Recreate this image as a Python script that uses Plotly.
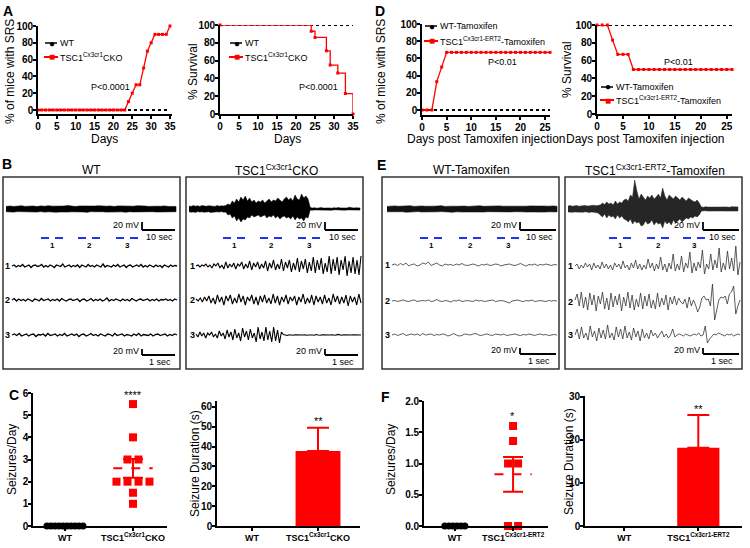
import numpy as np
import plotly.graph_objects as go

W, H = 750, 548
FONT = "Liberation Sans, Arial, Helvetica, sans-serif"
RED = "#ff0000"
BLUE = "#2233ee"

# ---------------- Panel A data ----------------
A_days = [0, 1, 2, 3, 4, 5, 6, 7, 8, 9, 10, 11, 12, 13, 14, 15, 16, 17, 18, 19, 20,
          21, 22, 23, 24, 25, 26, 27, 28, 29, 30, 31, 32, 33, 34, 35]
A_srs_wt = [0, 0, 0, 0, 0, 0, 0, 0, 0, 0, 0, 0, 0, 0, 0, 0, 0, 0, 0, 0, 0,
            0, 0, 0, 0, 0, 0, 0, 0, 0, 0, 0, 0, 0, 0, 0]
A_srs_tsc = [0, 0, 0, 0, 0, 0, 0, 0, 0, 0, 0, 0, 0, 0, 0, 0, 0, 0, 0, 0, 0,
             0, 0, 0, 10, 20, 30, 30, 50, 70, 80, 90, 90, 90, 90, 100]
A_surv_wt = [100, 100, 100, 100, 100, 100, 100, 100, 100, 100, 100, 100, 100, 100, 100, 100, 100, 100,
             100, 100, 100, 100, 100, 100, 100, 100, 100, 100, 100, 100, 100, 100, 100, 100, 100, 100]
A_surv_days_tsc = [0, 24, 25, 28, 29, 31, 33, 35]
A_surv_tsc = [100, 93, 86, 71, 55, 46, 23, 0]
A_xticks = [0, 5, 10, 15, 20, 25, 30, 35]
pct_ticks = [0, 20, 40, 60, 80, 100]

# ---------------- Panel D data ----------------
D_days = [0, 1, 2, 3, 4, 5, 6, 7, 8, 9, 10, 11, 12, 13, 14, 15, 16, 17, 18, 19, 20, 21, 22, 23, 24, 25, 26]
D_srs_wt = [0, 0, 0, 0, 0, 0, 0, 0, 0, 0, 0, 0, 0, 0, 0, 0, 0, 0, 0, 0, 0, 0, 0, 0, 0, 0, 0]
D_srs_tsc = [0, 0, 0, 33, 50, 67, 67, 67, 67, 67, 67, 67, 67, 67, 67, 67, 67, 67, 67, 67, 67, 67, 67, 67, 67, 67, 67]
D_surv_wt = [100, 100, 100, 100, 100, 100, 100, 100, 100, 100, 100, 100, 100, 100,
             100, 100, 100, 100, 100, 100, 100, 100, 100, 100, 100, 100, 100]
D_surv_tsc = [100, 100, 100, 83, 67, 67, 67, 50, 50, 50, 50, 50, 50, 50, 50, 50, 50, 50, 50, 50, 50, 50, 50, 50, 50, 50, 50]
D_xticks = [0, 5, 10, 15, 20, 25]

# ---------------- Panel C / F data ----------------
C_seiz_wt = [0, 0, 0, 0, 0, 0, 0, 0, 0, 0]
C_seiz_tsc = [5.5, 4.0, 3.0, 3.0, 2.0, 2.0, 2.0, 2.0, 1.5, 1.0]
C_dur_mean = [0, 37.8]
C_dur_err = [0, 11.7]
F_seiz_wt = [0, 0, 0, 0, 0, 0]
F_seiz_tsc = [1.6, 1.36, 1.0, 1.0, 0.0, 0.0]
F_dur_mean = [0, 18.2]
F_dur_err = [0, 7.6]

# ---------------- EEG traces (amplitudes, arbitrary units) ----------------
B_WT_over_up = [2.5, 3, 2.5, 2.8, 3.2, 2.6, 2.9, 3, 2.4, 3.1, 2.7, 3.3, 2.8, 2.6, 3, 2.9, 3.4, 2.7, 2.5, 3, 2.8, 3.1, 2.6,
                2.9, 3.2, 2.7, 2.8, 3, 2.5, 3.1, 2.9, 2.6, 3, 2.8, 3.2, 2.7, 2.9, 2.6, 3, 2.8, 2.7, 3.1, 2.6, 2.9, 2.5]
B_WT_over_lo = [2.7, 2.9, 3.1, 2.6, 2.8, 3.2, 2.7, 2.9, 3, 2.6, 3.1, 2.8, 2.7, 3.2, 2.9, 2.6, 3, 2.8, 3.1, 2.7, 2.9, 3.3, 2.6,
                2.8, 3, 2.7, 3.1, 2.9, 2.6, 3, 2.8, 3.2, 2.7, 2.9, 3, 2.6, 3.1, 2.8, 2.7, 3, 2.9, 2.6, 3.1, 2.8, 2.7]
B_CKO_over_up = [3, 2.5, 3.5, 2.8, 3.2, 2.6, 3.4, 3, 2.7, 3.3, 2.9, 3.1, 2.6, 3.5, 2.8, 3.2, 3, 3.6,
                 5, 4, 8, 6, 10, 7, 12, 9, 13, 8, 11, 7, 9, 6, 8, 7, 9, 6, 8, 10, 7, 9, 8, 11, 9, 7, 10, 12, 9, 11,
                 8, 14, 10, 9, 15, 11, 13, 10,
                 1.5, 1, 1.3, 0.8, 1.1, 1.4, 0.9, 1, 1.6, 1.1, 0.8, 1.3, 1, 1.5, 1.1, 0.9, 1.2, 1, 1.8, 1, 0.9, 1.2,
                 1, 1.1]
B_CKO_over_lo = [2.7, 3.2, 2.9, 3.4, 2.6, 3.1, 2.8, 3.3, 3, 2.7, 3.5, 2.9, 3.2, 2.8, 3.1, 2.6, 3.3, 3,
                 6, 5, 9, 7, 12, 9, 13, 10, 11, 8, 9, 6, 8, 7, 6, 8, 7, 6, 9, 7, 8, 6, 9, 7, 10, 8, 7, 9, 8, 10,
                 7, 11, 8, 10, 9, 12, 8, 9,
                 1, 1.3, 0.9, 1.1, 1.2, 0.8, 1, 1.4, 0.9, 1.1, 1.2, 0.8, 1, 1.3, 0.9, 1, 1.2, 0.9, 1.1, 1, 1.3, 0.9,
                 1, 1.1]
E_WT_over_up = [2.6, 2.9, 3.1, 2.7, 3, 2.8, 3.2, 2.6, 2.9, 3, 2.7, 3.1, 2.8, 2.9, 3.3, 2.6, 3, 2.8, 2.7, 3.1, 2.9, 2.6, 3,
                2.8, 3.2, 2.7, 2.9, 3, 2.6, 3.1, 2.8, 2.7, 3.2, 2.9, 2.6, 3, 2.8, 3.1, 2.7, 2.9, 3, 2.6, 2.8, 3.1, 2.7]
E_WT_over_lo = [2.8, 2.6, 3, 2.9, 2.7, 3.2, 2.8, 3, 2.6, 2.9, 3.1, 2.7, 3, 2.8, 2.6, 3.1, 2.9, 3.2, 2.8, 2.7, 3, 2.9, 2.6,
                3.1, 2.8, 3, 2.7, 2.9, 3.2, 2.6, 3, 2.8, 2.9, 2.7, 3.1, 2.8, 3, 2.6, 2.9, 3.1, 2.7, 3, 2.8, 2.6, 2.9]
E_ERT_over_up = [3, 3.4, 2.7, 3.1, 3.5, 2.8, 3.2, 3, 3.6, 2.9, 3.3, 3, 3.8, 3.2, 4,
                 4, 6, 4.5, 7, 5, 6, 4, 8, 5, 7, 6, 9,
                 10, 8, 14, 12, 29, 18, 10, 15, 12, 9, 13, 11, 14, 10, 12, 15, 11, 21, 13, 9, 14, 12, 10, 13, 11, 9,
                 12, 10, 8, 11, 9, 8, 7, 9, 6,
                 2, 1.7, 2.3, 1.9, 2.1, 1.8, 2.4, 2, 1.9, 2.2, 1.8, 2.1, 2, 1.7, 2.3, 2, 1.9, 2.1]
E_ERT_over_lo = [3, 2.8, 3.3, 3, 2.9, 3.4, 3, 3.2, 2.8, 3.1, 3.5, 3, 3.3, 3.6, 4,
                 6, 8, 5, 9, 6, 8, 7, 10, 6, 9, 7, 10,
                 11, 13, 10, 15, 12, 14, 13, 17, 16, 12, 15, 14, 11, 16, 13, 15, 14, 19, 12, 15, 13, 16, 11, 14, 12,
                 10, 13, 11, 9, 10, 8, 9, 7, 8, 6,
                 2, 2.2, 1.8, 2.1, 1.9, 2.3, 2, 1.8, 2.2, 2, 1.9, 2.1, 1.8, 2.2, 2, 1.9, 2.1, 2]

B_WT_1 = [0, 1, -1, 0.5, -0.5, 1.5, -1, 0, 1, -1.5, 0.5, 1, -0.5, 0, 1.5, -1, 0.5, -1, 1, 0, -1.5, 1, 0.5, -0.5, 2, -1, 0,
          1, -1, 0.5, -0.5, 1, -1.5, 1, 0, -1, 1.5, -0.5, 0.5, -1, 1, 0, -1, 2, -1, 0.5, 0, -1, 1, -0.5, 1.5, -1, 0, 1,
          -1.5, 0.5, 1, -1, 0, 1, -0.5, 1.5, -1, 0.5, -1, 1, 0, -1, 1, -0.5, 0.5, -1.5, 1, 0, -1, 1, -0.5, 0.5, 0]
B_WT_2 = [0, 1.5, -1, 1, -0.5, 0.5, -1, 1, 0, -1.5, 1, 0.5, -1, 1.5, -0.5, 0, 1, -1, 0.5, -0.5, 1, -1, 1.5, 0, -1, 0.5,
          1, -0.5, 0, 1, -1.5, 0.5, 1, -1, 0, 1.5, -1, 0.5, -0.5, 1, -1, 0, 2, -1, 0.5, -0.5, 1, 0, -1, 1, -0.5, 0.5,
          -1, 1.5, 0, -1, 0.5, 1, -0.5, 0, 1, -1, 0.5, -0.5, 1, -1, 0.5, 0, 1, -0.5, 0.5, -1, 1, 0]
B_WT_3 = [0, 1, -0.5, 1.5, -1, 0, 1, -1, 0.5, 1, -1.5, 0.5, 0, 1, -1, 1.5, -0.5, 0, 1, -1, 0.5, -0.5, 1.5, -1, 0, 1,
          -0.5, 1, -1.5, 0.5, 1, -1, 0, 1.5, -0.5, 0.5, -1, 1, 0, -1, 1, 0.5, -1, 1.5, -0.5, 0, 1, -1, 0.5, 0, -1, 1,
          -0.5, 1.5, -1, 0.5, 0, -0.5, 1, -1, 0.5, 1, -0.5, 0, 1, -1, 0.5, -0.5, 1, 0]
B_CKO_1 = [0, 1, -1, 1, 0, 2, -1, 1, -2, 2, 0, 3, -2, 1, -3, 4, -2, 2, -1, 3, -3, 2, 0, 4, -3, 2, -2, 5, -4, 3, -1, 4,
           -3, 2, -2, 5, -5, 3, -2, 6, -4, 2, -3, 7, -5, 4, -2, 6, -6, 3, -4, 8, -6, 5, -3, 7, -7, 4, -5, 9, -7, 6, -4,
           8, -8, 3, -6, 10, -8, 7, -5, 9, -9, 6, -4, 10, -10, 5, -7, 9, -8, 6, -9, 10]
B_CKO_2 = [1, -1, 2, -2, 3, -1, 4, -3, 2, -4, 5, -2, 3, -5, 4, -1, 5, -4, 2, -3, 6, -2, 4, -5, 3, -1, 5, -4, 3, -5, 4,
           -2, 5, -3, 2, -4, 6, -3, 4, -5, 3, -2, 5, -4, 3, -1, 4, -5, 3, -2, 6, -4, 2, -3, 5, -5, 4, -2, 3, -4, 5, -3,
           2, -5, 6, -2, 4, -4, 3, -3, 5, -6, 4, -2, 3, -5, 6, -3]
B_CKO_3 = [1, -2, 3, -1, 2, -3, 2, 0, 3, -2, 1, -3, 4, -1, 2, -4, 5, -2, 3, -5, 6, -3, 2, -6, 7, -2, 4, -5, 6, -3, 2,
           -7, 8, -4, 3, -6, 8, -5, 4, -7, 8, -6, 5, -8, 3, 0.5, 0, -0.5, 0.3, 0, -0.3, 0.2, 0, 0.4, -0.2, 0, 0.3,
           -0.3, 0, 0.2, 0, -0.2, 0.5, 0, -0.3, 0.2, 0, 0.3, -0.4, 0, 0.2, 0, -0.2, 0.6, 0, -0.3, 0.2, 0, -0.2, 0.3,
           0, 0.2, 0, -0.3, 0.2, 0]
E_WT_1 = [0, 1, -0.5, 1.5, 0, 2, -1, 0.5, 1, -1, 0, 2, 1, 3, -0.5, 1, 2, 0, -1, 1, 0, 0.5, -0.5, 1, 0, 1.5, 0, -0.5,
          0.5, 1, 0, -1, 0.5, 0, 1, -0.5, 0, 1, 0.5, -1, 0, 0.5, 1, 0, -0.5, 0.5, 1.5, 0, -1, 0.5, 0, 1, -0.5, 0.5,
          0, 1, 0, -0.5, 0.5, 0]
E_WT_2 = [0, 0.5, -0.5, 0, 1, 0, -0.5, 0.5, 1, -0.5, 0, 0.5, 0, 1, -0.5, 0, 1.5, 0, -0.5, 0.5, 0, -1, 0.5, 0, 1,
          -0.5, 0, 0.5, 0, -0.5, 1, 0, 0.5, -0.5, 0, 0.5, 1, -0.5, 0, 0.5, 0, -1, -2, 0, 0.5, 1, 0, -0.5, 0.5, 0, 1,
          -0.5, 0, 0.5, 0, -0.5, 0.5, 0, 0.5, 0]
E_WT_3 = [0, 1, -0.5, 0.5, 1.5, -0.5, 0.5, 1, 0, 1, -0.5, 1.5, 0, 0.5, 1, -0.5, 0.5, 0, 1, 0.5, -1, 0, 1.5, 0, -1,
          -0.5, 1, 0.5, 0, 1, 1.5, 0, -0.5, 0.5, 1, 0, -0.5, 1, 0.5, 0, 1, -0.5, 0, 0.5, 1, 0, -0.5, 0.5, 0, 1, 0,
          -0.5, 0.5, 1, 0, 0.5, -0.5, 0, 0.5, 0]
E_ERT_1 = [0, 2, -3, 1, -2, 3, -1, 2, -4, 3, -2, 1, -3, 4, -2, 2, -3, 1, -4, 3, -1, 2, -3, 5, -2, 1, -4, 3, -2, 6, -3,
           2, -4, 1, -3, 7, -2, 3, -5, 2, -3, 9, -4, 2, -6, 3, -3, 12, -5, 2, -4, 10, -6, 3, -2, 14, -7, 3, -5, 4, -2,
           16, -8, 2, -3, 12, -4, 6, -2, 18, -6, 3, -4, 15, -3, 8, -5, 20, -9, 4]
E_ERT_2 = [2, 8, -4, 10, -6, 5, -8, 9, -3, 7, -9, 6, -2, 10, -7, 4, -8, 9, -5, 6, -3, 8, -9, 5, -4, 10, -6, 7, -8, 3,
           -5, 9, -7, 6, -4, 8, -6, 2, -7, 9, -5, 4, -3, 7, -8, 5, -2, 6, -3, 4, 0, -2, 3, -6, 5, -4, 2, -3, -10, -5,
           4, 6, 2, 3, -4, 18, -18, -8, 2, 5, 4, 6, -2, 8, 10, 16, -12, -4, 2]
E_ERT_3 = [0, 6, -4, 8, -3, 2, -5, 9, -2, 4, -6, 7, -3, 5, -4, 10, -3, 2, -5, 8, -2, 6, -4, 9, -3, 3, -5, 7, -2, 4,
           -6, 6, -3, 2, -4, 5, -1, 2, -3, 1, 4, -2, 1, -3, 0, 6, -2, 0, 1, 0, -1, 1, 0, -1, 0, 1, 0, 2, -1, 0, 9, -8,
           -4, -1, 1, 0, 2, 1, 0, -1, 1, 0, 1, -1, 0, 1, 0]

# ====================================================================
fig = go.Figure()
layout = dict(width=W, height=H, margin=dict(l=0, r=0, t=0, b=0, pad=0, autoexpand=False),
              paper_bgcolor="white", plot_bgcolor="rgba(0,0,0,0)",
              showlegend=False, font=dict(family=FONT, color="black"))
annotations, shapes = [], []


def px(x, y):
    return x / W, 1 - y / H


def ann(x, y, text, size=10, bold=False, xanchor="center", yanchor="middle", angle=0, color="black"):
    xx, yy = px(x, y)
    annotations.append(dict(x=xx, y=yy, xref="paper", yref="paper", text=text, showarrow=False,
                            xanchor=xanchor, yanchor=yanchor, textangle=angle,
                            font=dict(family=FONT, size=size, color=color, weight="bold" if bold else "normal")))


def line(x0, y0, x1, y1, color="black", width=1.5):
    a, b = px(x0, y0)
    c, d = px(x1, y1)
    shapes.append(dict(type="line", xref="paper", yref="paper", x0=a, y0=b, x1=c, y1=d,
                       line=dict(color=color, width=width)))


def rect(x0, y0, x1, y1, color="#333", width=1.5):
    a, b = px(x0, y1)
    c, d = px(x1, y0)
    shapes.append(dict(type="rect", xref="paper", yref="paper", x0=a, y0=b, x1=c, y1=d,
                       line=dict(color=color, width=width)))


def chart_axes(n, xpx, ypx, xr, yr, xt, yt, xtt=None, ytt=None, xfs=10, yfs=10):
    base = dict(showline=True, linecolor="black", linewidth=1.6, ticks="outside", ticklen=3,
                tickwidth=1.5, tickcolor="black", showgrid=False, zeroline=False, fixedrange=True,
                automargin=False)
    layout[f"xaxis{n}"] = dict(base, domain=[xpx[0] / W, xpx[1] / W], range=xr, anchor=f"y{n}",
                               tickvals=xt, ticktext=xtt, ticklabelstandoff=-1,
                               tickfont=dict(family=FONT, size=xfs, color="black", weight="bold"))
    layout[f"yaxis{n}"] = dict(base, domain=[1 - ypx[1] / H, 1 - ypx[0] / H], range=yr, anchor=f"x{n}",
                               tickvals=yt, ticktext=ytt, ticklabelstandoff=-2,
                               tickfont=dict(family=FONT, size=yfs, color="black", weight="bold"))


def tr(n, **kw):
    kw.setdefault("hoverinfo", "skip")
    fig.add_trace(go.Scatter(xaxis=f"x{n}", yaxis=f"y{n}", cliponaxis=False, **kw))


def legend_item(x, y, text, kind, size=9):
    if kind == "wt":
        line(x - 7, y, x + 5, y, "black", 1.5)
        ann(x, y, "●", size=10, color="black")
    else:
        line(x - 8, y, x + 6, y, RED, 2)
        ann(x, y, "■", size=10, color=RED)
    ann(x + 6, y, text, size=size, xanchor="left")


# ---------------- Panel A ----------------
chart_axes(2, (38, 172), (26, 114), [0, 35.53], [-4.76, 100], A_xticks, pct_ticks)
tr(2, x=A_days, y=A_srs_wt, mode="lines", line=dict(color="black", width=2, dash="dot"))
tr(2, x=A_days, y=A_srs_tsc, mode="lines+markers", line=dict(color=RED, width=1.3),
   marker=dict(symbol="square", size=3, color=RED))
chart_axes(3, (220, 353), (25, 114), [0, 35], [0, 100], A_xticks, pct_ticks)
tr(3, x=A_days, y=A_surv_wt, mode="lines", line=dict(color="black", width=2, dash="dot"))
tr(3, x=A_surv_days_tsc, y=A_surv_tsc, mode="lines+markers", line=dict(color=RED, width=1.3, shape="hv"),
   marker=dict(symbol="square", size=3, color=RED))

ann(8, 11, "A", 14, True)
ann(10, 72, "% of mice with SRS", 12, angle=-90)
ann(104, 139, "Days", 12)
ann(193, 72, "% Survival", 12, angle=-90)
ann(287, 139, "Days", 12)
legend_item(52, 43, "WT", "wt")
legend_item(52, 57, "TSC1<sup>Cx3cr1</sup>CKO", "tsc")
legend_item(237, 43, "WT", "wt")
legend_item(237, 57, "TSC1<sup>Cx3cr1</sup>CKO", "tsc")
ann(110, 87, "P<0.0001", 9)
ann(318, 87, "P<0.0001", 9)

# ---------------- Panel D ----------------
chart_axes(4, (422, 550), (24, 115), [0, 26], [-5.8, 100], D_xticks, pct_ticks)
tr(4, x=D_days, y=D_srs_wt, mode="lines", line=dict(color="black", width=2, dash="dot"))
tr(4, x=D_days, y=D_srs_tsc, mode="lines+markers", line=dict(color=RED, width=1.3),
   marker=dict(symbol="square", size=3, color=RED))
chart_axes(5, (597, 732), (25, 114), [0, 26], [0, 100], D_xticks, pct_ticks)
tr(5, x=D_days, y=D_surv_wt, mode="lines", line=dict(color="black", width=2, dash="dot"))
tr(5, x=D_days, y=D_surv_tsc, mode="lines+markers", line=dict(color=RED, width=1.3),
   marker=dict(symbol="square", size=3, color=RED))

ann(380, 11, "D", 14, True)
ann(381, 72, "% of mice with SRS", 12, angle=-90)
ann(486, 139, "Days post Tamoxifen injection", 12)
ann(567, 70, "% Survival", 12, angle=-90)
ann(645, 139, "Days post Tamoxifen injection", 12)
legend_item(432, 26, "WT-Tamoxifen", "wt")
legend_item(432, 41, "TSC1<sup>Cx3cr1-ERT2</sup>-Tamoxifen", "tsc")
legend_item(608, 87, "WT-Tamoxifen", "wt")
legend_item(608, 100, "TSC1<sup>Cx3cr1-ERT2</sup>-Tamoxifen", "tsc")
ann(502, 62, "P<0.01", 9)
ann(678, 62, "P<0.01", 9)

# ---------------- EEG panels B and E ----------------
layout["xaxis"] = dict(domain=[0, 1], range=[0, W], visible=False, fixedrange=True, automargin=False)
layout["yaxis"] = dict(domain=[0, 1], range=[H, 0], visible=False, fixedrange=True, automargin=False)


def eeg(vals, x0, x1, base, color="black", width=1.2):
    v = np.asarray(vals, float)
    fig.add_trace(go.Scatter(x=np.linspace(x0, x1, len(v)), y=base - v, mode="lines",
                             line=dict(color=color, width=width), xaxis="x", yaxis="y",
                             hoverinfo="skip"))


def band(up, lo, x0, x1, base, color="black", width=0.6):
    # filled envelope (upper edge forward, lower edge backward)
    up = np.asarray(up, float)
    lo = np.asarray(lo, float)
    xu = np.linspace(x0, x1, len(up))
    xs = np.concatenate([xu, xu[::-1]])
    ys = np.concatenate([base - up, (base + lo)[::-1]])
    fig.add_trace(go.Scatter(x=xs, y=ys, mode="lines", fill="toself", fillcolor=color,
                             line=dict(color=color, width=width), xaxis="x", yaxis="y",
                             hoverinfo="skip"))


def scalebar(xv, yt, yb, xe, htext):
    line(xv, yt, xv, yb, "black", 1.8)
    line(xv, yb, xe, yb, "black", 1.8)
    ann(xv - 1, (yt + yb) / 2 - 1, "20 mV", 9, xanchor="right")
    ann((xv + xe) / 2 + 1, yb + 7, htext, 9)


def dashes(cx, y=238):
    line(cx - 11, y, cx - 3, y, BLUE, 2)
    line(cx + 3, y, cx + 11, y, BLUE, 2)


boxes = [(3, 180), (186, 363), (382, 559), (565, 742)]
for bx0, bx1 in boxes:
    rect(bx0, 177, bx1, 369)

ann(7, 164, "B", 14, True)
ann(381, 165, "E", 14, True)
ann(91, 170, "WT", 12)
ann(276, 170, "TSC1<sup>Cx3cr1</sup>CKO", 12)
ann(471, 170, "WT-Tamoxifen", 12)
ann(655, 170, "TSC1<sup>Cx3cr1-ERT2</sup>-Tamoxifen", 12)

# B WT
band(B_WT_over_up, B_WT_over_lo, 6, 176, 209, "black")
eeg(B_WT_1, 12, 177, 266, "black", 1.3)
eeg(B_WT_2, 12, 177, 300, "black", 1.3)
eeg(B_WT_3, 12, 177, 335, "black", 1.3)
# B CKO
band(B_CKO_over_up, B_CKO_over_lo, 189, 360, 209, "black", 0.5)
eeg(B_CKO_1, 196, 361, 266, "black", 1.1)
eeg(B_CKO_2, 196, 361, 300, "black", 1.1)
eeg(B_CKO_3, 196, 361, 335, "black", 1.1)
# E WT
band(E_WT_over_up, E_WT_over_lo, 387, 557, 209, "#111")
eeg(E_WT_1, 392, 557, 265, "#333", 0.8)
eeg(E_WT_2, 392, 557, 301, "#333", 0.8)
eeg(E_WT_3, 392, 557, 335, "#333", 0.8)
# E ERT2
band(E_ERT_over_up, E_ERT_over_lo, 568, 738, 209, "#262626", 0.5)
eeg(E_ERT_1, 575, 740, 266, "#333", 0.8)
eeg(E_ERT_2, 575, 740, 302, "#333", 0.8)
eeg(E_ERT_3, 575, 740, 335, "#333", 0.8)

for (xv, xe) in [(142, 175), (325, 358)]:
    scalebar(xv, 222, 230, xe, "10 sec")
    scalebar(xv, 349, 355, xe, "1 sec")
for (xv, xe) in [(520, 556), (703, 739)]:
    scalebar(xv, 222, 230, xe, "10 sec")
    scalebar(xv, 348, 354, xe, "1 sec")

for centers in [(52, 89, 127), (234, 271, 309), (431, 470, 508), (620, 658, 694)]:
    for k, cx in enumerate(centers):
        dashes(cx)
        ann(cx, 245, str(k + 1), 8, True)
for lx, ys in [(7, (266, 300, 335)), (192, (266, 300, 335)), (387, (265, 301, 335)), (570, (266, 302, 335))]:
    for k, yy in enumerate(ys):
        ann(lx, yy, str(k + 1), 9, True)


# ---------------- Panels C and F ----------------
def swarm_offsets(vals, step):
    vals = list(vals)
    offs = [0.0] * len(vals)
    groups = {}
    for i, v in enumerate(vals):
        groups.setdefault(v, []).append(i)
    for v, idx in groups.items():
        k = len(idx)
        for j, i in enumerate(idx):
            offs[i] = (j - (k - 1) / 2) * step
    return offs


def dot_panel(n, wt, tsc, ppu, tsc_step_px, mean_half, cap):
    o = swarm_offsets(wt, 4 / ppu)
    tr(n, x=[0 + d for d in o], y=wt, mode="markers",
       marker=dict(symbol="circle", size=7, color="black"))
    o = swarm_offsets(tsc, tsc_step_px / ppu)
    tr(n, x=[1 + d for d in o], y=tsc, mode="markers",
       marker=dict(symbol="square", size=8, color=RED))
    arr = np.asarray(tsc, float)
    m = arr.mean()
    sem = arr.std(ddof=1) / np.sqrt(len(arr))
    tr(n, x=[1 - mean_half, 1 + mean_half], y=[m, m], mode="lines",
       line=dict(color=RED, width=2, dash="dash"))
    tr(n, x=[1], y=[m], mode="markers", marker=dict(size=1, color="rgba(0,0,0,0)"),
       error_y=dict(type="data", array=[sem], color=RED, thickness=2, width=cap))


def bar_panel(n, means, errs, bw):
    fig.add_trace(go.Bar(x=[1], y=[means[1]], width=bw, marker=dict(color=RED, line=dict(width=0)),
                         error_y=dict(type="data", array=[errs[1]], arrayminus=[0], symmetric=False,
                                      color=RED, thickness=2, width=11),
                         xaxis=f"x{n}", yaxis=f"y{n}", hoverinfo="skip"))
    fig.add_trace(go.Bar(x=[0], y=[means[0]], width=bw, marker=dict(color=RED, line=dict(width=0)),
                         xaxis=f"x{n}", yaxis=f"y{n}", hoverinfo="skip"))


C_lab = ["WT", "TSC1<sup>Cx3cr1</sup>CKO"]
F_lab = ["WT", "TSC1<sup>Cx3cr1-ERT2</sup>"]

chart_axes(6, (33, 167), (393, 526), [-0.47, 1.5], [0, 6], [0, 1], [0, 1, 2, 3, 4, 5, 6], C_lab, xfs=9)
dot_panel(6, C_seiz_wt, C_seiz_tsc, 68, 11, 0.29, 10)
chart_axes(7, (217, 360), (401, 526), [-0.53, 1.636], [0, 63], [0, 1], [0, 10, 20, 30, 40, 50, 60], C_lab, xfs=9)
bar_panel(7, C_dur_mean, C_dur_err, 0.68)
chart_axes(8, (424, 548), (401, 526), [-0.53, 1.6], [0, 2], [0, 1], [0, 0.5, 1, 1.5, 2],
           F_lab, ["0.0", "0.5", "1.0", "1.5", "2.0"], xfs=9)
dot_panel(8, F_seiz_wt, F_seiz_tsc, 58, 10, 0.32, 10)
chart_axes(9, (585, 742), (396, 526), [-0.53, 1.59], [0, 30.2], [0, 1], [0, 10, 20, 30], F_lab, xfs=9)
bar_panel(9, F_dur_mean, F_dur_err, 0.57)

ann(14, 395, "C", 14, True)
ann(385, 397, "F", 14, True)
ann(133, 395, "****", 11)
ann(318, 421, "**", 11)
ann(512, 416, "*", 11)
ann(698, 409, "**", 11)
ann(12, 460, "Seizures/Day", 12, angle=-90)
ann(195, 464, "Seizure Duration (s)", 12, angle=-90)
ann(391, 460, "Seizures/Day", 12, angle=-90)
ann(569, 462, "Seizure Duration (s)", 12, angle=-90)

layout["annotations"] = annotations
layout["shapes"] = shapes
layout["barmode"] = "overlay"
fig.update_layout(**layout)
fig.write_html("out.html", config={"displayModeBar": False},
               post_script="document.body.style.margin='0px';")
